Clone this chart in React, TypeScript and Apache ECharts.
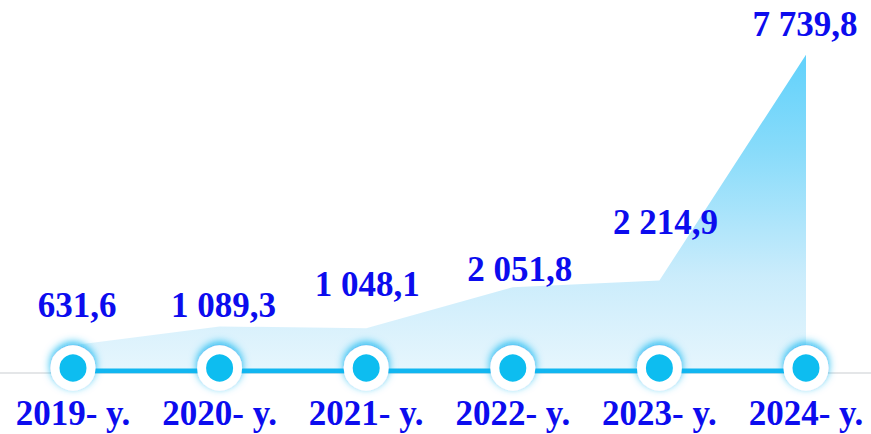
import React, { useEffect, useRef } from "react";
import * as echarts from "echarts";

const years = ["2019- y.", "2020- y.", "2021- y.", "2022- y.", "2023- y.", "2024- y."];
const values = [631.6, 1089.3, 1048.1, 2051.8, 2214.9, 7739.8];
const valueLabels = ["631,6", "1 089,3", "1 048,1", "2 051,8", "2 214,9", "7 739,8"];
const baseline = [0, 0, 0, 0, 0, 0];

export default function App() {
  const ref = useRef<HTMLDivElement>(null);
  useEffect(() => {
    if (!ref.current) return;
    const chart = echarts.init(ref.current, undefined, { renderer: "svg" });
    const labelShift: number[][] = [
      [4, -40], [4, -21], [1, -44], [7, -18], [6, -58], [-1, -30],
    ];
    const blue = "#0C0CEE";
    const font = "'Liberation Serif', 'Times New Roman', serif";
    chart.setOption({
      animation: false,
      backgroundColor: "#ffffff",
      grid: { left: 73, right: 65, top: 44, bottom: 63 },
      xAxis: {
        type: "category",
        data: years,
        boundaryGap: false,
        axisLine: { show: false },
        axisTick: { show: false },
        splitLine: { show: false },
        axisLabel: {
          interval: 0,
          margin: 28,
          color: blue,
          fontFamily: font,
          fontWeight: "bold",
          fontSize: 35,
          lineHeight: 28,
        },
      },
      yAxis: {
        type: "value",
        min: 0,
        max: 8000,
        show: false,
        splitLine: { show: false },
      },
      graphic: [
        {
          type: "line",
          z: -10,
          shape: { x1: 0, y1: 373, x2: 871, y2: 373 },
          style: { stroke: "#E4E6E8", lineWidth: 2 },
        },
      ],
      series: [
        {
          type: "line",
          data: values.map((v, i) => ({
            value: v,
            label: {
              offset: labelShift[i],
            },
          })),
          z: 2,
          symbol: "circle",
          symbolSize: 0.1,
          showSymbol: true,
          itemStyle: { color: "rgba(0,0,0,0)" },
          lineStyle: { width: 0 },
          areaStyle: {
            color: new echarts.graphic.LinearGradient(0, 0, 0, 1, [
              { offset: 0, color: "rgba(30,190,250,1)" },
              { offset: 0.3, color: "rgba(85,204,248,1)" },
              { offset: 0.7, color: "rgba(180,228,250,1)" },
              { offset: 1, color: "rgba(220,242,252,1)" },
            ]),
          },
          label: {
            show: true,
            position: "inside",
            formatter: (p: any) => valueLabels[p.dataIndex],
            color: blue,
            fontFamily: font,
            fontWeight: "bold",
            fontSize: 35,
          },
        },
        {
          type: "line",
          data: baseline,
          z: 5,
          symbol: "circle",
          symbolSize: 36,
          symbolOffset: [0, -3],
          lineStyle: { color: "#12B6F0", width: 5 },
          itemStyle: {
            color: "#0ABDF0",
            borderColor: "#ffffff",
            borderWidth: 9,
            shadowColor: "rgba(10,180,240,0.95)",
            shadowBlur: 9,
            shadowOffsetY: -3,
          },
          label: { show: false },
        },
      ],
    });
    return () => chart.dispose();
  }, []);
  return (
    <div
      ref={ref}
      style={{ position: "fixed", left: 0, top: 0, width: 871, height: 434 }}
    />
  );
}
